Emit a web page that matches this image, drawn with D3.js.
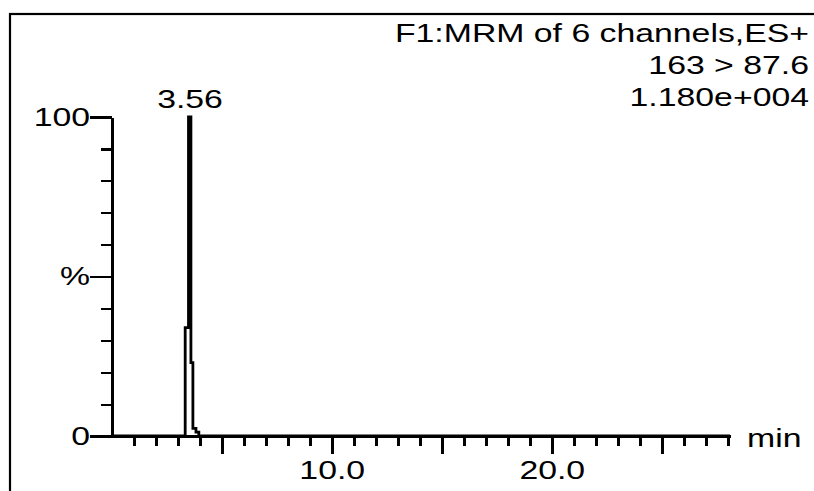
<!DOCTYPE html>
<html>
<head>
<meta charset="utf-8">
<script src="https://cdn.jsdelivr.net/npm/d3@7"></script>
<style>
  html, body { margin: 0; padding: 0; background: #fff; }
  svg { display: block; }
  text { font-family: "Liberation Sans", Arial, sans-serif; fill: #000; }
</style>
</head>
<body>
<svg id="chart" width="814" height="491"></svg>
<script>
// MRM chromatogram trace (retention time in min, relative intensity in %)
const retentionTimes = [0, 3.26, 3.42, 3.56, 3.64, 3.74, 3.92, 4.00, 28.1];
const relIntensity   = [0, 0,    34,   100,  23,   2.4,  1.2,  0,    0];

// header text, right aligned in the top corner
const headerLines = ["F1:MRM of 6 channels,ES+", "163 > 87.6", "1.180e+004"];

// labelled apex
const peakTime = 3.56;
const peakText = "3.56";

// axis ticks
const xMinorTicks = d3.range(1, 29);
const xMajorTicks = [5, 10, 15, 20, 25];
const xTickLabels = { 10: "10.0", 20: "20.0" };
const yMinorTicks = d3.range(0, 101, 10);
const yMajorTicks = [0, 50, 100];
const yTickLabels = { 0: "0", 50: "%", 100: "100" };
const xUnit = "min";

const svg = d3.select("#chart");
const FS = 26;      // font size
const SX = 1.3;     // horizontal stretch of the lettering
const HW = 2.2;     // width of horizontal strokes
const VW = 2.8;     // width of vertical strokes

const x = d3.scaleLinear().domain([0, 28.1]).range([111.7, 730]);
const y = d3.scaleLinear().domain([0, 100]).range([436, 117]);

// frame
svg.append("rect")
  .attr("x", 10).attr("y", 14)
  .attr("width", 900).attr("height", 600)
  .attr("fill", "none").attr("stroke", "#000").attr("stroke-width", HW);

function styleAxis(g, tickW, domainW) {
  g.selectAll("line").attr("stroke", "#000").attr("stroke-width", tickW)
    .attr("shape-rendering", "crispEdges");
  g.selectAll(".domain").attr("stroke", "#000").attr("stroke-width", domainW)
    .attr("shape-rendering", "crispEdges");
  g.selectAll("text").style("font-size", FS + "px").attr("fill", "#000");
}

// x axis: minute ticks, longer ticks every 5 min
svg.append("g").attr("transform", "translate(0,436)")
  .call(d3.axisBottom(x).tickValues(xMinorTicks).tickSize(10).tickSizeOuter(0).tickFormat(""))
  .call(styleAxis, VW, HW);
const xMaj = svg.append("g").attr("transform", "translate(0,436)")
  .call(d3.axisBottom(x).tickValues(xMajorTicks).tickSize(18).tickSizeOuter(0)
        .tickFormat(d => xTickLabels[d] || ""))
  .call(styleAxis, VW, HW);
xMaj.select(".domain").remove();
xMaj.selectAll("text")
  .attr("transform", `scale(${SX},1)`)
  .attr("dy", 0).attr("y", 43);

// y axis: 10 % ticks, longer at 0, 50 and 100
svg.append("g").attr("transform", "translate(111.7,0)")
  .call(d3.axisLeft(y).tickValues(yMinorTicks).tickSize(11).tickSizeOuter(0).tickFormat(""))
  .call(styleAxis, HW, VW);
const yMaj = svg.append("g").attr("transform", "translate(111.7,0)")
  .call(d3.axisLeft(y).tickValues(yMajorTicks).tickSize(21.7).tickSizeOuter(0)
        .tickPadding(0).tickFormat(d => yTickLabels[d]))
  .call(styleAxis, HW, VW);
yMaj.select(".domain").remove();
yMaj.selectAll("text")
  .attr("x", -21.7 / SX)
  .attr("transform", `scale(${SX},1)`);

// unit label at the end of the time axis
svg.append("text")
  .attr("transform", `translate(747,447) scale(${SX},1)`)
  .style("font-size", FS + "px")
  .text(xUnit);

// chromatogram trace
const pts = retentionTimes.map((t, i) => [t, relIntensity[i]]);
svg.append("path")
  .datum(pts)
  .attr("fill", "none")
  .attr("stroke", "#000")
  .attr("stroke-width", VW)
  .attr("d", d3.line().x(d => x(d[0])).y(d => y(d[1])).curve(d3.curveStep));

// apex retention time
svg.append("text")
  .attr("transform", `translate(${x(peakTime)},${y(100) - 9}) scale(${SX},1)`)
  .attr("text-anchor", "middle")
  .style("font-size", FS + "px")
  .text(peakText);

// header lines
const headerBaselines = [42, 74, 106];
headerLines.forEach((s, i) => {
  svg.append("text")
    .attr("transform", `translate(809,${headerBaselines[i]}) scale(${SX},1)`)
    .attr("text-anchor", "end")
    .style("font-size", FS + "px")
    .text(s);
});
</script>
</body>
</html>
